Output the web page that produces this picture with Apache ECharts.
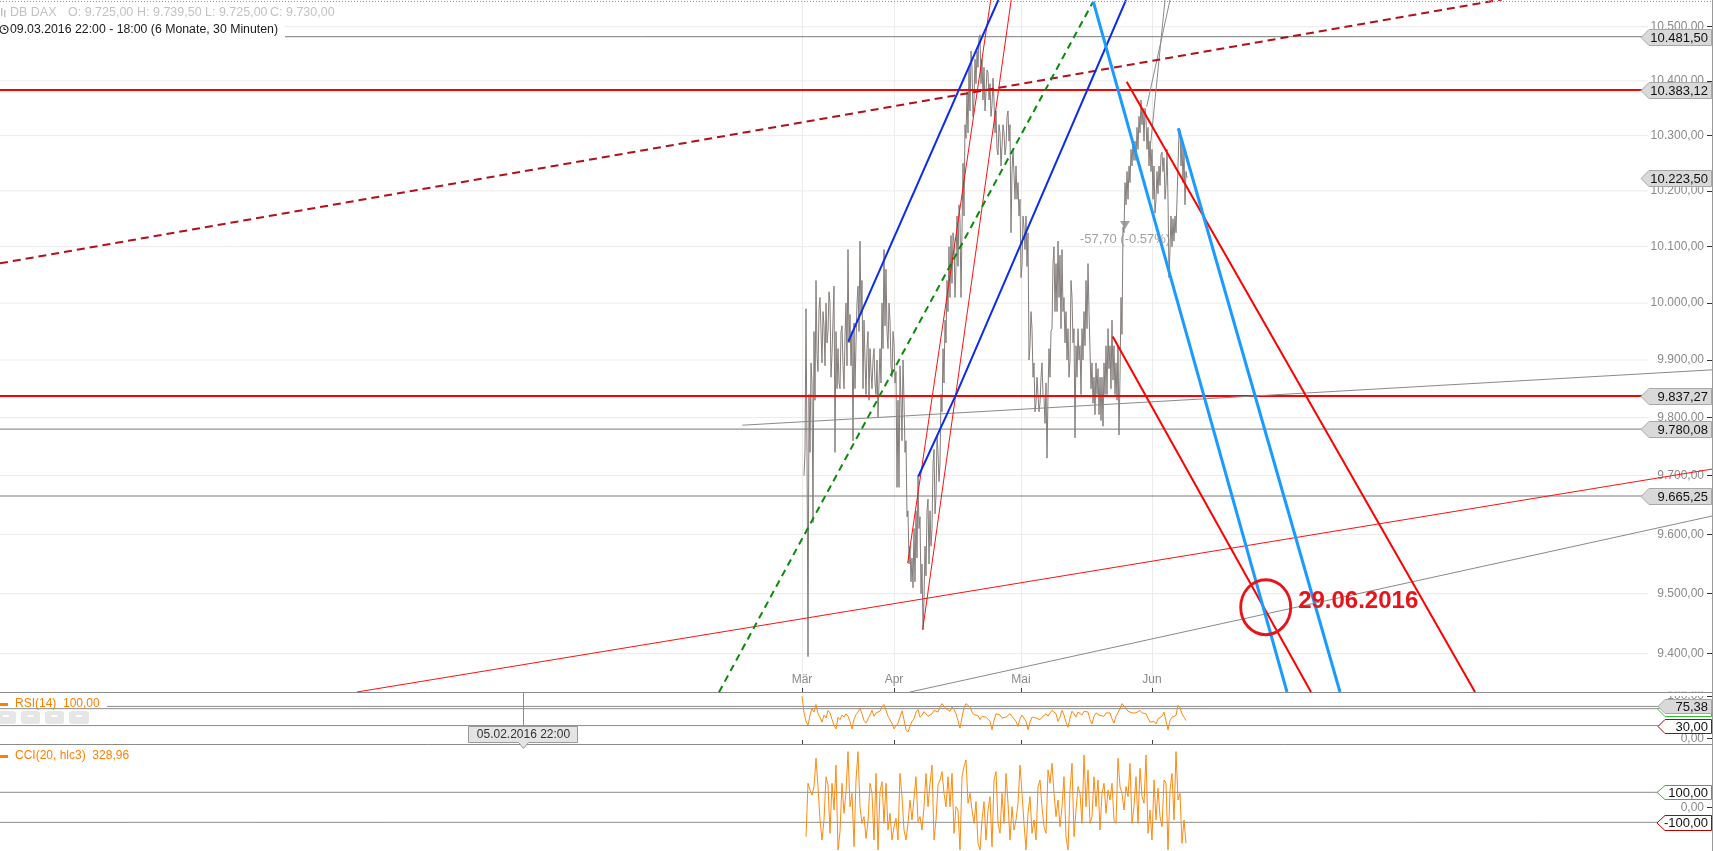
<!DOCTYPE html>
<html><head><meta charset="utf-8">
<script src="https://cdn.jsdelivr.net/npm/echarts@6/dist/echarts.min.js"></script>
<style>html,body{margin:0;padding:0;background:#fff;overflow:hidden}#c{width:1713px;height:851px;}</style>
</head><body><div id="c"></div>
<script>
// ---------- DATA ----------
const monthLabels = ['Mär', 'Apr', 'Mai', 'Jun'];
const monthPos = [-2, 44, 107.5, 173];          // bar-slot index of month start
const priceTicks = [9400, 9500, 9600, 9700, 9800, 9900, 10000, 10100, 10200, 10300, 10400, 10500];
const priceStart = -1;                            // slot index of first price sample
const priceA = [9700,9990,9395,9740,9860,9950,10040,9880,10010,9895,9960,10000,9950,10000,9910,10030,9950,9920,9850,9960,
9850,10000,10095,9980,9950,9965,9930,10030,10110,10040,9970,9840,9950,9920,9850,9920,9840,9800,9920,10000,
10095,10060,9920,9970,9870,9930,9880,9830,9890,9760,9830,9760,9640,9580,9560,9610,9640,9700,9630,9550,
9490,9530,9660,9640,9610,9745,9665,9740,9720,9810,9860,9930,9985,10010,10035,10110,10065,10065,10150,10125,
10155,10295,10305,10345,10425,10365,10395,10425,10485,10440,10425,10380,10415,10395,10355,10365,10345,10265,10305,10280,
10305,10280,10345,10320,10235,10275,10245,10215,10185,10065,10135,10155,10125,9925,9955,9895,9825,9870,9825,9895,
9835,9860,9840,9870,9955,10100,10070,10110,10085,10095,10010,9985,9955,9900,10010,9955,9925,9955,9925,9955,
9985,10040,10070,9985,9895,9870,9895,9885,9870,9870,9895,9925,9955,9925,9970,9925,9895,9925,9870,9945,
10125,10175,10185,10215,10245,10255,10255,10275,10305,10320,10290,10330,10315,10290,10275,10245,10185,10195,10210,10270,
10260,10210,10185,10095,10100,10110,10125,10185,10310,10285,10275,10235];
const priceB = [9740,9740,9840,9895,9620,9830,9910,9990,9950,9985,9890,9930,10020,9870,9970,9740,9850,9860,9950,9890,
9940,9890,9930,9890,9760,9850,10000,9950,9980,9850,9900,9920,9830,9880,9900,9860,9900,9860,9860,9920,
9960,9950,10000,9890,9950,9860,9680,9680,9830,9900,9740,9630,9550,9520,9510,9520,9560,9610,9500,9440,
9580,9640,9550,9580,9720,9635,9770,9690,9840,9920,9970,10040,10100,10120,10125,10010,10155,10175,10010,10250,
10320,10380,10425,10455,10335,10440,10455,10480,10395,10365,10345,10420,10365,10335,10405,10305,10275,10320,10245,10320,
10265,10335,10290,10125,10275,10185,10185,10155,10045,10155,10095,10065,9900,9985,9870,9810,9870,9810,9870,9840,
9790,9730,9920,9950,10070,9985,9985,10010,9955,9985,9930,9900,9870,10040,9930,9765,9870,9900,9840,9900,
9925,9955,9985,9850,9825,9805,9840,9805,9795,9785,9840,9840,9885,9850,9865,9840,9830,9770,10010,10135,
10215,10235,10245,10275,10290,10290,10315,10335,10365,10350,10350,10275,10245,10235,10185,10160,10235,10245,10265,10235,
10185,10275,10045,10155,10150,10155,10185,10305,10245,10215,10175,10223.5];
const rsiStart = -2;
const rsi = [100,60,40,30,55,70,62,80,58,50,38,55,48,66,60,45,30,22,50,44,55,50,58,52,40,22,45,56,62,71,
58,42,36,32,55,66,52,60,56,64,75,80,66,52,48,35,22,18,36,50,65,44,20,15,28,40,46,62,68,50,
55,63,60,52,50,58,66,68,62,74,82,86,70,66,64,74,68,58,42,24,50,72,82,86,74,62,56,60,54,44,
52,48,50,47,40,20,42,58,60,55,48,52,50,54,58,52,56,40,28,46,55,58,40,20,38,50,52,48,46,44,
50,54,58,52,60,66,64,58,40,50,66,55,38,26,48,64,58,50,62,60,55,64,66,62,44,34,52,60,58,54,
56,52,60,58,60,46,36,52,56,70,82,76,70,64,62,60,56,60,64,66,60,56,58,48,38,36,40,34,46,44,
52,62,58,20,42,50,48,54,78,72,58,50,42];
const cciStart = 0;
const cci = [-196,160,115,82,138,327,138,-84,-218,-84,204,149,-173,160,-18,282,-284,-162,160,-40,
104,371,4,93,-262,182,371,4,-107,-62,-207,-95,160,93,-218,226,-284,104,171,-107,
160,-151,-40,-218,-129,-73,-218,226,71,-151,-218,-107,49,-84,60,204,-95,-62,-151,4,
226,4,160,282,-218,-84,149,182,238,93,4,204,4,226,-173,4,-18,-284,204,271,
316,27,93,-18,-107,38,-240,-284,-84,38,-218,-18,71,-262,182,238,-107,-173,93,-107,
226,27,-218,4,-151,-84,27,282,93,-107,-284,-40,71,-173,-84,-218,138,182,4,-129,
-173,249,160,293,93,-62,49,-129,4,204,-196,-284,115,293,-196,-18,138,93,-107,349,
4,249,-107,-62,204,4,182,-151,93,160,-40,115,49,160,-84,-107,327,138,93,-18,
138,71,293,-107,4,204,-107,260,71,27,349,-173,-18,-218,182,-84,127,-62,-129,182,
160,-284,115,226,-84,371,49,93,-240,-84,-240];

// horizontal levels
const redLevels = [10383.12, 9837.27];
const grayLevels = [9780.08, 9665.25];
const topLevel = 10481.50;
const topLevelStart = -260.5;
const lastPrice = 10223.50;
const rsiLevels = [70, 30];
const rsiLast = 75.38;
const cciLevels = [100, -100];

// drawn trendlines: [slot index, price]
const darkRedDashed = [[-403, 10070.5], [348, 10550.7]];
const greenDashed   = [[-43.5, 9336.3], [143.5, 10545.9]];
const blueA         = [[21.15, 9932.4], [96.15, 10549.6]];
const blueB         = [[56.15, 9698.6], [75.35, 9842.4], [160, 10549.6]];
const thinRedA      = [[50.85, 9551.6], [92.35, 10549.6]];
const thinRedB      = [[58.35, 9439.8], [102.6, 10549.6]];
const thinGrayA     = [[170.35, 10352.8], [182, 10549.6]];
const thinGrayB     = [[172, 10274.1], [179.5, 10549.6]];
const grayRiseA     = [[-31.85, 9786.8], [453, 9882.9]];
const grayRiseB     = [[52, 9336.6], [453, 9631.1]];
const redRise       = [[-224.5, 9336.6], [453, 9711.3]];
const redFallA      = [[160.35, 10398.6], [334.5, 9336.6]];
const redFallB      = [[153.35, 9941.2], [252.5, 9336.6]];
const skyA          = [[143.65, 10546.4], [240.5, 9336.6]];
const skyB          = [[186.15, 10313.5], [267, 9336.6]];

const circleMark = [229.85, 9477.4];
const circleText = '29.06.2016';
const changeMark = [159.5, 10138.9];
const changeText = '-57,70 (-0.57%)';
const crossX = -141.5;
const crossText = '05.02.2016 22:00';
const headerParts = ['DB DAX', 'O: 9.725,00', 'H: 9.739,50', 'L: 9.725,00', 'C: 9.730,00'];
const headerLine2 = '09.03.2016 22:00 - 18:00 (6 Monate, 30 Minuten)';
const rsiTitle = 'RSI(14)  100,00';
const cciTitle = 'CCI(20, hlc3)  328,96';

// ---------- CHART ----------
const FONT = '"Liberation Sans", Arial, sans-serif';
const X_MIN = -403, X_MAX = 453, GRID_X_END = 421;
const fmt = v => {
  const s = Math.abs(v).toFixed(2).split('.');
  return (v < 0 ? '-' : '') + s[0].replace(/\B(?=(\d{3})+(?!\d))/g, '.') + ',' + s[1];
};
const priceData = [];
priceA.forEach((a, k) => { const i = priceStart + k; priceData.push([i, a], [i + 0.5, priceB[k]]); });
const rsiData = rsi.map((v, k) => [rsiStart + k, v]);
const cciData = cci.map((v, k) => [cciStart + k, v]);

function seg(pts, color, width, type, z, gi) {
  return { type: 'line', xAxisIndex: gi || 0, yAxisIndex: gi || 0, data: pts, symbol: 'none', silent: true,
    animation: false, z: z, lineStyle: { color: color, width: width, type: type || 'solid', cap: 'butt' } };
}
const hLine = (v, from, to) => [[from, v], [to, v]];

const series = [];
priceTicks.forEach(v => series.push(seg(hLine(v, X_MIN, GRID_X_END), '#ebebeb', 1, 'solid', 1, 0)));
series.push({ type: 'line', xAxisIndex: 0, yAxisIndex: 0, data: priceData, symbol: 'none', silent: true, z: 2,
  lineStyle: { color: '#847e7b', width: 1 } });
series.push(seg(hLine(topLevel, topLevelStart, X_MAX), '#7a7a7a', 1, 'solid', 3, 0));
grayLevels.forEach(v => series.push(seg(hLine(v, X_MIN, X_MAX), '#7a7a7a', 1, 'solid', 3, 0)));
redLevels.forEach(v => series.push(seg(hLine(v, X_MIN, X_MAX), '#ff0000', 2, 'solid', 3, 0)));
series.push(seg(grayRiseA, '#8a8a8a', 1, 'solid', 4, 0));
series.push(seg(grayRiseB, '#8a8a8a', 1, 'solid', 4, 0));
series.push(seg(thinGrayA, '#8a8a8a', 1, 'solid', 4, 0));
series.push(seg(thinGrayB, '#8a8a8a', 1, 'solid', 4, 0));
series.push(seg(redRise, '#ff1010', 1, 'solid', 4, 0));
series.push(seg(thinRedA, '#ff1010', 1, 'solid', 4, 0));
series.push(seg(thinRedB, '#ff1010', 1, 'solid', 4, 0));
series.push(seg(darkRedDashed, '#b2101a', 2, [8, 5], 4, 0));
series.push(seg(greenDashed, '#0a8a0a', 2, [7, 5], 4, 0));
series.push(seg(blueA, '#0a2cf0', 2, 'solid', 4, 0));
series.push(seg(blueB, '#0a2cf0', 2, 'solid', 4, 0));
series.push(seg(redFallA, '#ff0000', 2, 'solid', 4, 0));
series.push(seg(redFallB, '#ff0000', 2, 'solid', 4, 0));
series.push(seg(skyA, '#1a9bff', 3, 'solid', 4, 0));
series.push(seg(skyB, '#1a9bff', 3, 'solid', 4, 0));
series.push({ type: 'scatter', xAxisIndex: 0, yAxisIndex: 0, silent: true, z: 6,
  data: [circleMark], symbol: 'circle', symbolSize: [50, 55],
  itemStyle: { color: 'rgba(0,0,0,0)', borderColor: '#e8141c', borderWidth: 3, opacity: 1 },
  label: { show: true, position: 'right', distance: 6, offset: [0, -6], formatter: circleText,
    color: '#e8141c', fontSize: 24, fontWeight: 'bold', fontFamily: FONT } });
series.push({ type: 'scatter', xAxisIndex: 0, yAxisIndex: 0, silent: true, z: 6,
  data: [changeMark], symbol: 'triangle', symbolRotate: 180, symbolSize: [10, 8],
  itemStyle: { color: '#8a8a8a' },
  label: { show: true, position: 'bottom', distance: 4, formatter: changeText,
    color: '#8a8a8a', fontSize: 13, fontFamily: FONT } });
// RSI pane
series.push(seg(hLine(rsiLast, X_MIN, X_MAX), '#8c8c8c', 1, 'solid', 2, 1));
rsiLevels.forEach(v => series.push(seg(hLine(v, X_MIN, X_MAX), '#8c8c8c', 1, 'solid', 2, 1)));
series.push({ type: 'line', xAxisIndex: 1, yAxisIndex: 1, data: rsiData, symbol: 'none', silent: true, z: 3,
  lineStyle: { color: '#ff8a10', width: 1 } });
// CCI pane
cciLevels.forEach(v => series.push(seg(hLine(v, X_MIN, X_MAX), '#8c8c8c', 1, 'solid', 2, 2)));
series.push({ type: 'line', xAxisIndex: 2, yAxisIndex: 2, data: cciData, symbol: 'none', silent: true, z: 3,
  lineStyle: { color: '#ff8a10', width: 1 } });

const xAxisBase = g => ({
  type: 'value', gridIndex: g, min: X_MIN, max: X_MAX, position: 'bottom',
  axisLine: { show: g < 2, onZero: false, lineStyle: { color: '#8c8c8c' } },
  axisTick: { show: g < 2, inside: true, length: 4, customValues: monthPos, lineStyle: { color: '#444' } },
  axisLabel: { show: g === 0, inside: true, margin: 6, customValues: monthPos,
    formatter: v => monthLabels[monthPos.indexOf(v)] || '', color: '#8a8a8a', fontSize: 12, fontFamily: FONT },
  splitLine: { show: g === 0, lineStyle: { color: '#ececec' } }
});
const yAxisBase = (g, extra) => Object.assign({
  gridIndex: g, position: 'right',
  axisLine: { show: true, onZero: false, lineStyle: { color: '#9a9a9a' } },
  axisTick: { show: true, inside: true, length: 5, lineStyle: { color: '#333' } },
  axisLabel: { show: true, inside: true, margin: 8, formatter: fmt, color: '#8a8a8a', fontSize: 12, fontFamily: FONT },
  splitLine: { show: false }
}, extra);

const option = {
  animation: false,
  backgroundColor: '#ffffff',
  textStyle: { fontFamily: FONT },
  grid: [
    { left: 0, right: 1, top: 0, height: 692, containLabel: false, outerBoundsMode: 'none' },
    { left: 0, right: 1, top: 692, height: 52, containLabel: false, outerBoundsMode: 'none' },
    { left: 0, right: 1, top: 744, height: 107, containLabel: false, outerBoundsMode: 'none' }
  ],
  xAxis: [xAxisBase(0), xAxisBase(1), xAxisBase(2)],
  yAxis: [
    yAxisBase(0, { type: 'log', logBase: 10, min: 9336.6, max: 10549.6 }),
    yAxisBase(1, { type: 'value', min: -13.6, max: 109.5 }),
    yAxisBase(2, { type: 'value', min: -291, max: 422 })
  ],
  series: series
};
option.yAxis[0].axisTick.customValues = priceTicks;
option.yAxis[0].axisLabel.customValues = priceTicks;
option.yAxis[1].axisTick.customValues = [0, 100];
option.yAxis[1].axisLabel.customValues = [0, 100];
option.yAxis[2].axisTick.customValues = [0];
option.yAxis[2].axisLabel.customValues = [0];

const chart = echarts.init(document.getElementById('c'), null, { renderer: 'canvas' });
chart.setOption(option);

// ---------- overlays positioned through the axes ----------
const py = (v, a) => chart.convertToPixel({ yAxisIndex: a }, v);
const px = (v, a) => chart.convertToPixel({ xAxisIndex: a }, v);
const g = [];
const txt = (x, y, text, fill, size, align, extra) => Object.assign({ type: 'text', x: x, y: y, z: 120,
  style: { text: text, fill: fill, font: size + 'px ' + FONT, align: align || 'left', verticalAlign: 'middle' } }, extra || {});
function tag(cy, text, o) {
  const r = 1711.5, t = Math.round(cy - o.h / 2) + 0.5, b = t + o.h;
  const mid = (t + b) / 2;
  g.push({ type: 'polygon', z: 110, shape: { points: [[o.tip, mid], [o.body, t], [r, t], [r, b], [o.body, b]] },
    style: { fill: o.fill, stroke: o.stroke, lineWidth: 1 } });
  if (text) g.push(txt(1708, mid + 0.5, text, '#111', 13, 'right'));
}
// header
g.push({ type: 'rect', z: 105, shape: { x: 0, y: 3, width: 285, height: 33 }, style: { fill: '#fff' } });
g.push({ type: 'line', z: 106, shape: { x1: 0, y1: 1.5, x2: 1712, y2: 1.5 }, style: { stroke: '#8f8fae', lineDash: [1, 2], lineWidth: 1 } });
const hx = [10, 68, 137, 205, 270];
headerParts.forEach((t, k) => g.push(txt(hx[k], 13, t, '#c2c2c2', 12.5)));
g.push({ type: 'rect', z: 120, shape: { x: 1, y: 8, width: 1.5, height: 8 }, style: { fill: '#c2c2c2' } });
g.push({ type: 'rect', z: 120, shape: { x: 4, y: 10, width: 1.5, height: 7 }, style: { fill: '#c2c2c2' } });
g.push(txt(10, 29.5, headerLine2, '#1a1a1a', 12.3));
g.push({ type: 'circle', z: 120, shape: { cx: 4, cy: 29.5, r: 4 }, style: { fill: 'none', stroke: '#222', lineWidth: 1.2 } });
g.push({ type: 'polyline', z: 120, shape: { points: [[4, 27], [4, 29.5], [6, 29.5]] }, style: { stroke: '#222', lineWidth: 1 } });
// price tags
const pTag = { tip: 1641, body: 1649, h: 16, fill: '#d9d9d9', stroke: '#a8a8a8' };
tag(py(topLevel, 0), fmt(topLevel), pTag);
redLevels.forEach(v => tag(py(v, 0), fmt(v), pTag));
tag(py(lastPrice, 0), fmt(lastPrice), pTag);
grayLevels.forEach(v => tag(py(v, 0), fmt(v), pTag));
// clip of the RSI "100,00" label (upper half hidden under the price pane)
const r100 = py(100, 1);
g.push({ type: 'rect', z: 100, shape: { x: 1650, y: 682, width: 55, height: 9.5 }, style: { fill: '#fff' } });
g.push({ type: 'rect', z: 100, shape: { x: 1650, y: 693, width: 55, height: r100 - 693 }, style: { fill: '#fff' } });
// RSI tags
tag(py(70, 1), '', { tip: 1658, body: 1665, h: 14, fill: '#fff', stroke: '#33bb33' });
tag(py(rsiLast, 1), fmt(rsiLast), { tip: 1658, body: 1665, h: 14, fill: '#d9d9d9', stroke: '#a8a8a8' });
tag(py(30, 1), fmt(30), { tip: 1658, body: 1665, h: 14, fill: '#fff', stroke: '#b80000' });
// CCI tags
tag(py(100, 2), fmt(100), { tip: 1657, body: 1665, h: 14, fill: '#fff', stroke: '#33bb33' });
tag(py(-100, 2), fmt(-100), { tip: 1657, body: 1665, h: 15, fill: '#fff', stroke: '#b80000' });
// pane titles
g.push({ type: 'rect', z: 104, shape: { x: 0, y: 696, width: 107, height: 12 }, style: { fill: '#fff' } });
g.push({ type: 'rect', z: 120, shape: { x: 0, y: 703, width: 8, height: 3 }, style: { fill: '#ff7f00' } });
g.push(txt(15, 703.5, rsiTitle, '#ff7f00', 12));
g.push({ type: 'rect', z: 120, shape: { x: 0, y: 755, width: 8, height: 3 }, style: { fill: '#ff7f00' } });
g.push(txt(15, 755.5, cciTitle, '#ff7f00', 12));
[[-4, 16], [21, 40], [45, 64], [69, 89]].forEach(([a, b]) => {
  g.push({ type: 'rect', z: 103, shape: { x: a, y: 711, width: b - a, height: 13, r: 3 }, style: { fill: '#e6e6e6' } });
  g.push({ type: 'rect', z: 103, shape: { x: (a + b) / 2 - 3, y: 715, width: 6, height: 2 }, style: { fill: '#fff' } });
});
// crosshair date box
const cx = Math.round(px(crossX, 1)) + 0.5;
g.push({ type: 'line', z: 106, shape: { x1: cx, y1: 692, x2: cx, y2: 726 }, style: { stroke: '#8c8c8c', lineWidth: 1 } });
g.push({ type: 'polygon', z: 107, shape: { points: [[cx - 55, 726.5], [cx + 54, 726.5], [cx + 54, 742.5], [cx + 5, 742.5], [cx, 748.5], [cx - 5, 742.5], [cx - 55, 742.5]] },
  style: { fill: '#e4e4e4', stroke: '#9a9a9a', lineWidth: 1 } });
g.push(txt(cx, 735, crossText, '#333', 12, 'center'));
chart.setOption({ graphic: g });
</script></body></html>
